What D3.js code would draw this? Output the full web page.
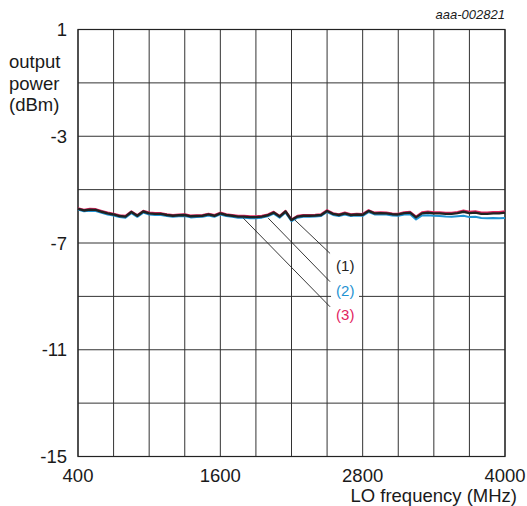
<!DOCTYPE html>
<html><head><meta charset="utf-8">
<script src="https://cdn.jsdelivr.net/npm/d3@7/dist/d3.min.js"></script>
<style>body{margin:0;background:#fff}svg{display:block}text{font-family:"Liberation Sans",Arial,sans-serif}</style>
</head><body>
<script>
const freq = [400,450,500,550,600,650,700,750,800,850,900,950,1000,1050,1100,1150,1200,1250,1300,1350,1400,1450,1500,1550,1600,1650,1700,1750,1800,1850,1900,1950,2000,2050,2100,2150,2200,2250,2300,2350,2400,2450,2500,2550,2600,2650,2700,2750,2800,2850,2900,2950,3000,3050,3100,3150,3200,3250,3300,3350,3400,3450,3500,3550,3600,3650,3700,3750,3800,3850,3900,3950,4000];
const series1 = [-5.72,-5.78,-5.75,-5.76,-5.83,-5.89,-5.93,-5.99,-6.01,-5.84,-5.98,-5.82,-5.89,-5.91,-5.91,-5.95,-5.98,-5.96,-5.95,-6.00,-5.99,-5.98,-5.93,-5.98,-5.89,-5.95,-5.98,-6.01,-6.01,-6.03,-6.03,-6.01,-5.96,-5.86,-6.01,-5.82,-6.14,-6.01,-5.98,-5.98,-5.97,-5.95,-5.80,-5.91,-5.95,-5.89,-5.95,-5.93,-5.94,-5.80,-5.89,-5.88,-5.89,-5.92,-5.93,-5.88,-5.86,-6.04,-5.89,-5.86,-5.89,-5.89,-5.91,-5.91,-5.88,-5.83,-5.88,-5.86,-5.91,-5.91,-5.89,-5.89,-5.86];
const series2 = [-5.75,-5.81,-5.79,-5.80,-5.87,-5.93,-5.97,-6.03,-6.05,-5.88,-6.02,-5.86,-5.93,-5.95,-5.95,-5.99,-6.02,-6.00,-5.99,-6.04,-6.03,-6.02,-5.97,-6.02,-5.93,-5.99,-6.02,-6.05,-6.05,-6.07,-6.07,-6.05,-6.00,-5.90,-6.05,-5.86,-6.18,-6.05,-6.02,-6.02,-6.01,-5.99,-5.84,-5.95,-5.99,-5.93,-5.99,-5.97,-5.98,-5.84,-5.93,-5.92,-5.93,-5.97,-5.98,-5.93,-5.92,-6.12,-5.97,-5.96,-5.98,-5.99,-6.01,-6.02,-6.00,-5.98,-6.03,-6.02,-6.06,-6.07,-6.06,-6.07,-6.06];
const series3 = [-5.70,-5.75,-5.72,-5.73,-5.80,-5.86,-5.90,-5.96,-5.98,-5.81,-5.95,-5.79,-5.86,-5.88,-5.88,-5.92,-5.95,-5.93,-5.92,-5.97,-5.96,-5.95,-5.90,-5.95,-5.86,-5.92,-5.95,-5.98,-5.98,-6.00,-6.00,-5.98,-5.93,-5.83,-5.98,-5.79,-6.11,-5.98,-5.95,-5.95,-5.94,-5.92,-5.77,-5.88,-5.92,-5.86,-5.92,-5.90,-5.91,-5.77,-5.86,-5.85,-5.86,-5.89,-5.90,-5.85,-5.83,-6.01,-5.85,-5.82,-5.85,-5.85,-5.87,-5.87,-5.84,-5.78,-5.83,-5.81,-5.86,-5.86,-5.84,-5.84,-5.81];
const xGrid = [400,700,1000,1300,1600,1900,2200,2500,2800,3100,3400,3700,4000];
const xTickLabels = [400,1600,2800,4000];
const yGrid = [1,-1,-3,-5,-7,-9,-11,-13,-15];
const yTickLabels = [1,-3,-7,-11,-15];
const labels = ["(1)","(2)","(3)"];
const leaderStartF = [2229,2004,1794];
const leaderStartY = [-6.14,-6.07,-6.07];
const leaderEndF = [2525,2525,2525];
const leaderEndY = [-7.39,-8.45,-9.39];
const labelY = [-7.85,-8.78,-9.70];

const W=527,H=506;
const svg=d3.select("body").append("svg").attr("width",W).attr("height",H);
const x=d3.scaleLinear().domain([400,4000]).range([78,505]);
const y=d3.scaleLinear().domain([-15,1]).range([456.5,29.5]);
const txt="#1a1a1a";
const fs=18.5;

const g=svg.append("g");
g.selectAll(".vg").data(xGrid).enter().append("line")
 .attr("x1",d=>x(d)).attr("x2",d=>x(d)).attr("y1",y(1)).attr("y2",y(-15))
 .attr("stroke","#333").attr("stroke-width",1);
g.selectAll(".hg").data(yGrid).enter().append("line")
 .attr("y1",d=>y(d)).attr("y2",d=>y(d)).attr("x1",x(400)).attr("x2",x(4000))
 .attr("stroke","#333").attr("stroke-width",1);
g.append("rect").attr("x",x(400)).attr("y",y(1)).attr("width",x(4000)-x(400)).attr("height",y(-15)-y(1))
 .attr("fill","none").attr("stroke","#222").attr("stroke-width",1.2);

labels.forEach((l,i)=>{
  g.append("rect").attr("x",x(2525)+1).attr("y",y(labelY[i])-10).attr("width",28).attr("height",20).attr("fill","#fff");
});

const line=d3.line().x((d,i)=>x(freq[i])).y(d=>y(d));
const colors=["#222","#1f93d2","#e2245f"];
g.append("path").attr("d",line(series2)).attr("fill","none").attr("stroke",colors[1]).attr("stroke-width",2).attr("stroke-linejoin","round");
g.append("path").attr("d",line(series3)).attr("fill","none").attr("stroke",colors[2]).attr("stroke-width",2).attr("stroke-linejoin","round");
g.append("path").attr("d",line(series1)).attr("fill","none").attr("stroke",colors[0]).attr("stroke-width",2.4).attr("stroke-linejoin","round");

labels.forEach((l,i)=>{
  g.append("line").attr("x1",x(leaderStartF[i])).attr("y1",y(leaderStartY[i]))
   .attr("x2",x(leaderEndF[i])).attr("y2",y(leaderEndY[i])).attr("stroke","#222").attr("stroke-width",0.9);
  g.append("text").attr("x",x(2525)+6).attr("y",y(labelY[i])).attr("dy","0.35em")
   .attr("font-size",15).attr("fill",colors[i]).text(l);
});

svg.selectAll(".yt").data(yTickLabels).enter().append("text")
 .attr("x",67).attr("y",d=>y(d)).attr("dy","0.36em").attr("text-anchor","end")
 .attr("font-size",fs).attr("fill",txt).text(d=>d);
svg.selectAll(".xt").data(xTickLabels).enter().append("text")
 .attr("x",d=>x(d)).attr("y",481.5).attr("text-anchor","middle")
 .attr("font-size",fs).attr("fill",txt).text(d=>d);

["output","power","(dBm)"].forEach((t,i)=>{
  svg.append("text").attr("x",9).attr("y",68+i*21.7).attr("font-size",fs).attr("fill",txt).text(t);
});
svg.append("text").attr("x",517).attr("y",501.5).attr("text-anchor","end").attr("font-size",fs).attr("fill",txt).text("LO frequency (MHz)");
svg.append("text").attr("x",505).attr("y",19).attr("text-anchor","end").attr("font-size",13).attr("font-style","italic").attr("fill",txt).text("aaa-002821");
</script>
</body></html>
